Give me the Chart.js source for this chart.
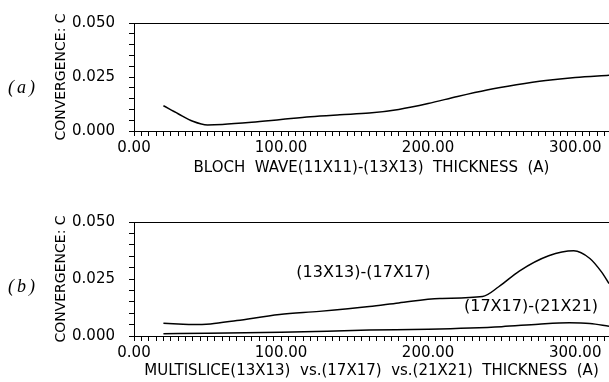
<!DOCTYPE html>
<html>
<head>
<meta charset="utf-8">
<script src="https://cdn.jsdelivr.net/npm/chart.js@4"></script>
<style>
  body { margin: 0; background: #fff; }
  .panel { position: absolute; left: 0; width: 609px; height: 191px; }
  .tag { position: absolute; left: 8px; font: italic 18px "Liberation Serif", serif; letter-spacing: 3px; }
</style>
</head>
<body>
<div class="panel" style="top:0"><canvas id="chartA" width="609" height="191"></canvas></div>
<div class="panel" style="top:191px"><canvas id="chartB" width="609" height="191"></canvas></div>
<div class="tag" style="top:77px">(a)</div>
<div class="tag" style="top:276px">(b)</div>
<script>
// panel (a): Bloch wave convergence
const thicknessA = [20, 30, 40, 50, 60, 80, 100, 120, 140, 160, 180, 200, 220, 240, 260, 280, 300, 323];
const blochConv = [0.0117, 0.0080, 0.0045, 0.0028, 0.0030, 0.0040, 0.0053, 0.0066, 0.0075, 0.0083, 0.0100, 0.0127, 0.0160, 0.0190, 0.0214, 0.0234, 0.0248, 0.0258];

// panel (b): multislice convergence
const thicknessB = [20, 30, 40, 52, 70, 99, 126, 160, 180, 208, 237, 248, 262, 282, 299, 310, 318, 323];
const conv13to17 = [0.0056, 0.0053, 0.0050, 0.0053, 0.0068, 0.0094, 0.0108, 0.0129, 0.0145, 0.0165, 0.0173, 0.0216, 0.0285, 0.0352, 0.0374, 0.0340, 0.0280, 0.0230];
const thicknessC = [20, 50, 100, 160, 200, 250, 275, 296, 310, 323];
const conv17to21 = [0.0010, 0.0012, 0.0016, 0.0026, 0.0030, 0.0041, 0.0052, 0.0058, 0.0055, 0.0043];

const noteTexts = ["(13X13)-(17X17)", "(17X17)-(21X21)"];
const noteX = [156, 270];
const noteY = [0.0276, 0.0129];

const xTitles = ["BLOCH  WAVE(11X11)-(13X13)  THICKNESS  (A)",
  "MULTISLICE(13X13)  vs.(17X17)  vs.(21X21)  THICKNESS  (A)"];
const yTitle = "CONVERGENCE: C";

const toPoints = (xs, ys) => xs.map((x, i) => ({ x: x, y: ys[i] }));

const notesPlugin = {
  id: "notes",
  afterDatasetsDraw(chart, args, opts) {
    if (!opts.show) return;
    const { ctx, scales } = chart;
    ctx.save();
    ctx.fillStyle = "#000";
    ctx.font = '16px "DejaVu Sans"';
    ctx.textAlign = "center";
    ctx.textBaseline = "middle";
    noteTexts.forEach((t, i) => {
      ctx.fillText(t, scales.x.getPixelForValue(noteX[i]), scales.y.getPixelForValue(noteY[i]));
    });
    ctx.restore();
  },
};

const lineSet = (data) => ({
  data: data,
  borderColor: "#000",
  borderWidth: 1.5,
  pointRadius: 0,
  tension: 0.4,
  cubicInterpolationMode: "monotone",
  showLine: true,
  fill: false,
});

const drawPanel = (canvas, datasets, xTitle, padTop, xHeight, titlePad, notes) =>
  new Chart(canvas, {
    type: "scatter",
    data: { datasets: datasets },
    plugins: [notesPlugin],
    options: {
      responsive: false,
      animation: false,
      devicePixelRatio: 1,
      layout: { padding: { top: padTop, left: 45, right: 0, bottom: 0 } },
      plugins: {
        legend: { display: false },
        tooltip: { enabled: false },
        notes: { show: notes },
      },
      scales: {
        x: {
          type: "linear",
          position: "bottom",
          min: 0,
          max: 323,
          afterFit: (s) => { s.height = xHeight; },
          border: { color: "#000", width: 1 },
          grid: { drawOnChartArea: false, color: "#000", tickLength: 5, tickWidth: 1 },
          ticks: {
            stepSize: 5,
            autoSkip: false,
            maxRotation: 0,
            includeBounds: false,
            padding: 3,
            color: "#000",
            font: { family: "DejaVu Sans", size: 15 },
            callback: (v) => (Math.abs(v % 100) < 1e-6 ? v.toFixed(2) : ""),
          },
          title: {
            display: true,
            text: xTitle,
            color: "#000",
            font: { family: "DejaVu Sans", size: 15 },
            padding: { top: 0, bottom: titlePad },
          },
        },
        x2: {
          type: "linear",
          position: "top",
          min: 0,
          max: 323,
          afterFit: (s) => { s.height = 0; },
          border: { color: "#000", width: 1 },
          grid: { drawOnChartArea: false, drawTicks: false },
          ticks: { display: false },
        },
        y: {
          type: "linear",
          min: 0,
          max: 0.05,
          afterFit: (s) => { s.width = 89; },
          border: { color: "#000", width: 1 },
          grid: { drawOnChartArea: false, color: "#000", tickLength: 5 },
          ticks: {
            stepSize: 0.005,
            autoSkip: false,
            padding: 14,
            color: "#000",
            font: { family: "DejaVu Sans", size: 15 },
            callback: (v) => (Math.round(v * 1000) % 25 === 0 ? v.toFixed(3) : ""),
          },
          title: {
            display: true,
            text: yTitle,
            color: "#000",
            font: { family: "DejaVu Sans", size: 14 },
            padding: { top: 8, bottom: 0 },
          },
        },
      },
    },
  });

drawPanel(document.getElementById("chartA"),
  [lineSet(toPoints(thicknessA, blochConv))],
  xTitles[0], 20, 60, 14, false);

drawPanel(document.getElementById("chartB"),
  [lineSet(toPoints(thicknessB, conv13to17)), lineSet(toPoints(thicknessC, conv17to21))],
  xTitles[1], 31, 46, 2, true);
</script>
</body>
</html>
